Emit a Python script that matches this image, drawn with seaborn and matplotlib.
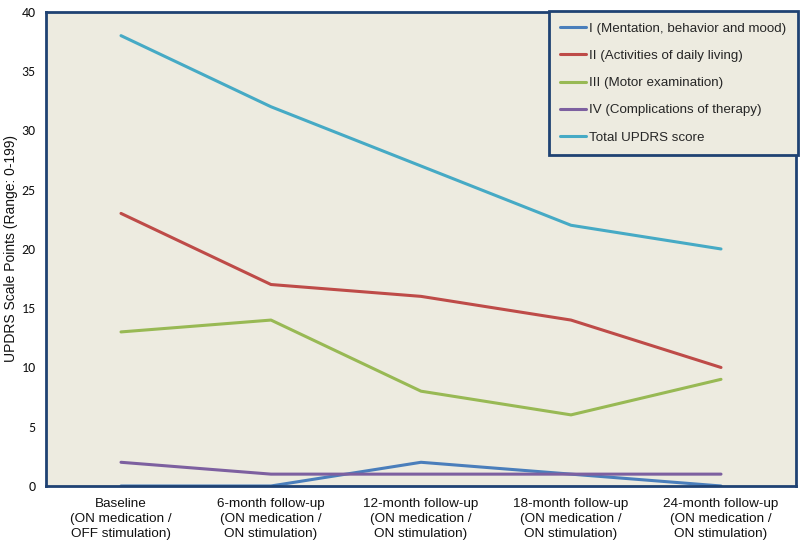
import numpy as np
import pandas as pd
import matplotlib
matplotlib.use("Agg")
import matplotlib.pyplot as plt
import seaborn as sns

categories = ["Baseline\n(ON medication /\nOFF stimulation)",
              "6-month follow-up\n(ON medication /\nON stimulation)",
              "12-month follow-up\n(ON medication /\nON stimulation)",
              "18-month follow-up\n(ON medication /\nON stimulation)",
              "24-month follow-up\n(ON medication /\nON stimulation)"]
series_names = ["I (Mentation, behavior and mood)",
                "II (Activities of daily living)",
                "III (Motor examination)",
                "IV (Complications of therapy)",
                "Total UPDRS score"]
part_I = [0, 0, 2, 1, 0]
part_II = [23, 17, 16, 14, 10]
part_III = [13, 14, 8, 6, 9]
part_IV = [2, 1, 1, 1, 1]
total = [38, 32, 27, 22, 20]
colors = ["#4A7EBB", "#BE4B48", "#98B954", "#7D60A0", "#46AAC5"]
yticks = [0, 5, 10, 15, 20, 25, 30, 35, 40]

sns.set_theme(style="white")
plt.rcParams['font.family'] = ['Liberation Sans', 'DejaVu Sans']

rows = []
for name, vals in zip(series_names, [part_I, part_II, part_III, part_IV, total]):
    for i, v in enumerate(vals):
        rows.append({"x": i, "value": v, "series": name})
df = pd.DataFrame(rows)

fig = plt.figure(figsize=(8, 5.43), dpi=100)
ax = fig.add_axes([0.0575, 0.105, 0.9375, 0.873])
ax.set_facecolor("#EDEBE0")
sns.lineplot(data=df, x="x", y="value", hue="series", hue_order=series_names,
             palette=colors, linewidth=2.2, ax=ax, legend=True)

ax.set_xlim(-0.5, 4.5)
ax.set_ylim(0, 40)
ax.set_xticks(range(len(categories)))
ax.set_xticklabels(categories, fontsize=9.7, color="#111111", linespacing=1.3)
ax.set_yticks(yticks)
ax.set_yticklabels([str(t) for t in yticks], fontsize=10, color="#111111",
                   family=['Carlito', 'Liberation Sans', 'DejaVu Sans'])
ax.tick_params(axis='x', length=0, pad=9)
ax.tick_params(axis='y', length=0, pad=7.5)
ax.set_xlabel("")
ax.set_ylabel("UPDRS Scale Points (Range: 0-199)", fontsize=10, color="#111111")
ax.yaxis.set_label_coords(-0.0375, 0.5)
for s in ax.spines.values():
    s.set_color("#1F4273")
    s.set_linewidth(2)

leg = ax.legend(loc="upper right", bbox_to_anchor=(1.002, 1.002), fontsize=9.6,
                frameon=True, fancybox=False, handlelength=1.9, handletextpad=0.25,
                labelspacing=1.12, borderpad=0.85, borderaxespad=0)
frame = leg.get_frame()
frame.set_edgecolor("#1F4273")
frame.set_linewidth(2)
frame.set_facecolor("#EDEBE0")
frame.set_alpha(1)
for line in leg.get_lines():
    line.set_linewidth(2.2)

fig.savefig("out.png", dpi=100)
